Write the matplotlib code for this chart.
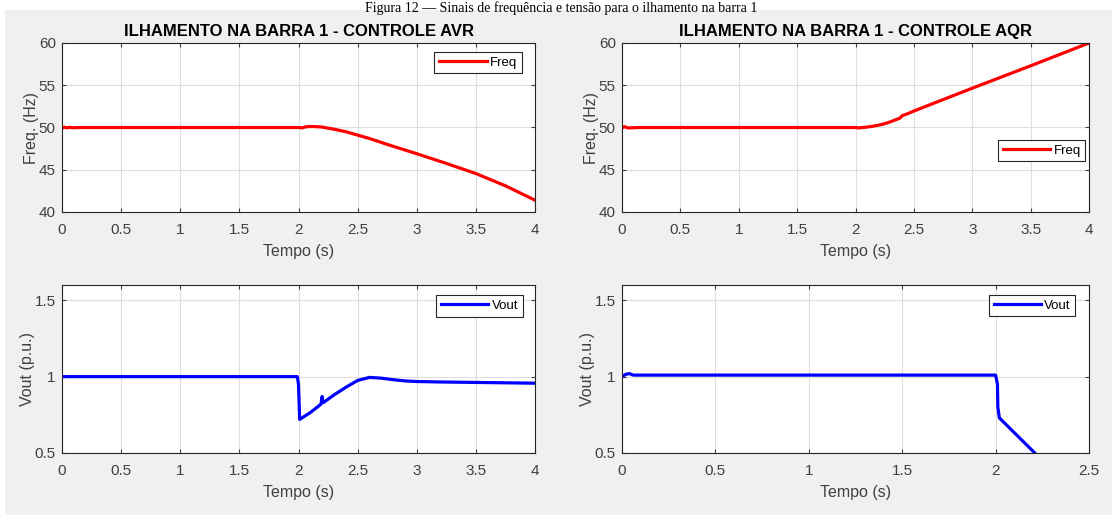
import matplotlib
matplotlib.use("Agg")
import matplotlib.pyplot as plt
from matplotlib.patches import Rectangle
from matplotlib.ticker import FormatStrFormatter

plt.rcParams['font.family'] = ['Liberation Sans', 'DejaVu Sans']

# --- data ---
t_freq_avr = [0, 0.02, 0.04, 0.06, 0.1, 0.15, 2.0, 2.03, 2.06, 2.1, 2.15, 2.2,
              2.25, 2.3, 2.4, 2.5, 2.6, 2.75, 3.0, 3.25, 3.5, 3.75, 4.0]
freq_avr = [49.9, 50.05, 49.95, 50.02, 49.97, 50.0, 50.0, 49.95, 50.08, 50.12, 50.1, 50.05,
            49.92, 49.8, 49.5, 49.1, 48.7, 48.0, 46.9, 45.75, 44.55, 43.1, 41.4]

t_freq_aqr = [0, 0.02, 0.05, 0.1, 0.15, 2.0, 2.03, 2.06, 2.1, 2.15, 2.2, 2.25, 2.3, 2.35,
              2.38, 2.4, 2.45, 2.5, 3.0, 3.5, 4.0]
freq_aqr = [49.95, 50.1, 49.95, 49.97, 50.0, 50.0, 49.95, 50.0, 50.05, 50.15, 50.28, 50.45, 50.68, 50.95,
            51.1, 51.4, 51.65, 51.95, 54.65, 57.3, 60.0]

t_vout_avr = [0, 1.99, 2.0, 2.01, 2.05, 2.1, 2.15, 2.19, 2.2, 2.205, 2.21, 2.3,
              2.4, 2.5, 2.6, 2.7, 2.8, 2.9, 3.0, 3.2, 3.5, 4.0]
vout_avr = [1.0, 1.0, 0.95, 0.72, 0.74, 0.765, 0.795, 0.82, 0.87, 0.835, 0.83, 0.88,
            0.93, 0.975, 0.995, 0.99, 0.98, 0.972, 0.968, 0.965, 0.962, 0.957]

t_vout_aqr = [0, 0.02, 0.04, 0.06, 0.1, 2.0, 2.01, 2.012, 2.02, 2.21]
vout_aqr = [1.0, 1.015, 1.02, 1.01, 1.01, 1.01, 0.95, 0.8, 0.73, 0.5]

titles = ['ILHAMENTO NA BARRA 1 - CONTROLE AVR', 'ILHAMENTO NA BARRA 1 - CONTROLE AQR']
caption = 'Figura 12 \u2014 Sinais de frequência e tensão para o ilhamento na barra 1'

W, H = 1112, 515
fig = plt.figure(figsize=(W / 100, H / 100), dpi=100, facecolor='white')
fig.patches.append(Rectangle((5 / W, 0), 1, 1 - 10 / H, transform=fig.transFigure,
                             facecolor='#f0f0f0', edgecolor='none', zorder=-10))
fig.text(0.505, 1 - 1 / H, caption, ha='center', va='top',
         family='Liberation Serif', fontsize=10, color='black')


def px_axes(x0, y0, x1, y1):
    return fig.add_axes([x0 / W, 1 - y1 / H, (x1 - x0) / W, (y1 - y0) / H])


def style(ax, xlim, xticks, ylim, yticks, ylabel):
    ax.set_xlim(*xlim)
    ax.set_ylim(*ylim)
    ax.set_xticks(xticks)
    ax.set_yticks(yticks)
    fmt = FormatStrFormatter('%g')
    ax.xaxis.set_major_formatter(fmt)
    ax.yaxis.set_major_formatter(fmt)
    ax.grid(True, color='#dedede', linewidth=0.8)
    ax.set_axisbelow(True)
    ax.tick_params(direction='in', length=3, width=0.8, top=True, right=True,
                   labelsize=11, colors='#404040')
    ax.tick_params(axis='x', pad=8)
    ax.tick_params(axis='y', pad=4.5)
    for s in ax.spines.values():
        s.set_color('#262626')
        s.set_linewidth(0.8)
    ax.set_xlabel('Tempo (s)', fontsize=11.5, color='#404040', labelpad=5)
    ax.set_ylabel(ylabel, fontsize=11.5, color='#404040', labelpad=0)


def legend(ax, anchor, loc):
    lg = ax.legend(loc=loc, bbox_to_anchor=anchor, fontsize=9.5, handlelength=3.6,
                   handletextpad=0.25, borderpad=0.35, fancybox=False, framealpha=1,
                   borderaxespad=0)
    lg.get_frame().set_edgecolor('#262626')
    lg.get_frame().set_linewidth(0.8)


ax1 = px_axes(62, 43, 535, 212)
ax1.plot(t_freq_avr, freq_avr, color='#ff0000', lw=2.3, label='Freq')
style(ax1, (0, 4), [0, 0.5, 1, 1.5, 2, 2.5, 3, 3.5, 4], (40, 60), [40, 45, 50, 55, 60], 'Freq. (Hz)')
ax1.set_title(titles[0], fontsize=12, fontweight='bold', pad=5)
legend(ax1, (0.972, 0.948), 'upper right')

ax2 = px_axes(622, 43, 1089, 212)
ax2.plot(t_freq_aqr, freq_aqr, color='#ff0000', lw=2.3, label='Freq')
style(ax2, (0, 4), [0, 0.5, 1, 1.5, 2, 2.5, 3, 3.5, 4], (40, 60), [40, 45, 50, 55, 60], 'Freq. (Hz)')
ax2.set_title(titles[1], fontsize=12, fontweight='bold', pad=5)
legend(ax2, (0.992, 0.426), 'upper right')

ax3 = px_axes(62, 285, 535, 453)
ax3.plot(t_vout_avr, vout_avr, color='#0000ff', lw=2.3, label='Vout')
style(ax3, (0, 4), [0, 0.5, 1, 1.5, 2, 2.5, 3, 3.5, 4], (0.5, 1.6), [0.5, 1, 1.5], 'Vout (p.u.)')
legend(ax3, (0.974, 0.94), 'upper right')

ax4 = px_axes(622, 285, 1089, 453)
ax4.plot(t_vout_aqr, vout_aqr, color='#0000ff', lw=2.3, label='Vout')
style(ax4, (0, 2.5), [0, 0.5, 1, 1.5, 2, 2.5], (0.5, 1.6), [0.5, 1, 1.5], 'Vout (p.u.)')
legend(ax4, (0.971, 0.941), 'upper right')

fig.savefig('out.png', dpi=100, facecolor=fig.get_facecolor())
